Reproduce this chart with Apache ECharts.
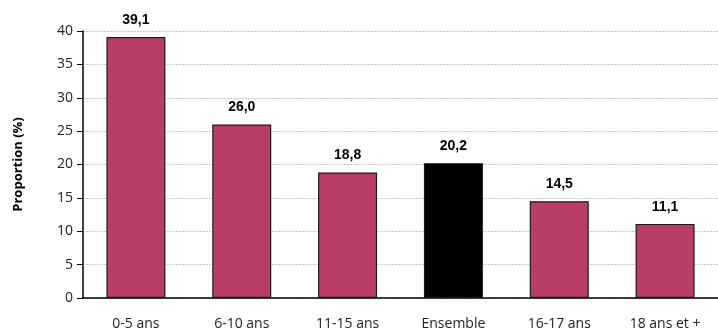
<!DOCTYPE html>
<html><head><meta charset="utf-8">
<script src="https://cdn.jsdelivr.net/npm/echarts@6/dist/echarts.min.js"></script>
<style>html,body{margin:0;padding:0;background:#fff}#c{width:718px;height:335px}</style>
</head><body><div id="c"></div>
<script>
const categories = ['0-5 ans', '6-10 ans', '11-15 ans', 'Ensemble', '16-17 ans', '18 ans et +'];
const values = [39.1, 26.0, 18.8, 20.2, 14.5, 11.1];
const highlight = 'Ensemble';

const chart = echarts.init(document.getElementById('c'));
chart.setOption({
  animation: false,
  grid: { left: 83, top: 31, width: 639, height: 267 },
  xAxis: {
    type: 'category', data: categories,
    axisLine: { lineStyle: { color: '#000', width: 1.5 } },
    axisTick: { show: false },
    axisLabel: { color: '#222', fontFamily: 'Open Sans', fontSize: 14, margin: 19 }
  },
  yAxis: {
    type: 'value', min: 0, max: 40, interval: 5,
    name: 'Proportion (%)', nameLocation: 'middle', nameGap: 58,
    nameTextStyle: { fontFamily: 'Open Sans', fontWeight: 'bold', fontSize: 13, color: '#000' },
    axisLine: { show: true, lineStyle: { color: '#000', width: 1.5 } },
    axisTick: { show: true, length: 6, lineStyle: { color: '#000' } },
    axisLabel: { color: '#222', fontFamily: 'Open Sans', fontSize: 14, margin: 10 },
    splitLine: { lineStyle: { color: '#c8c8c8', type: [2, 1] } }
  },
  series: [{
    type: 'bar', barWidth: 59,
    data: values.map((v, i) => ({
      value: v,
      itemStyle: { color: categories[i] === highlight ? '#000' : '#BA3D67' }
    })),
    itemStyle: { borderColor: '#1a1a1a', borderWidth: 1.2 },
    label: {
      show: true, position: 'top', distance: 10,
      formatter: p => p.value.toFixed(1).replace('.', ','),
      fontFamily: 'Liberation Sans', fontWeight: 'bold', fontSize: 14, color: '#000'
    }
  }]
});
</script></body></html>
